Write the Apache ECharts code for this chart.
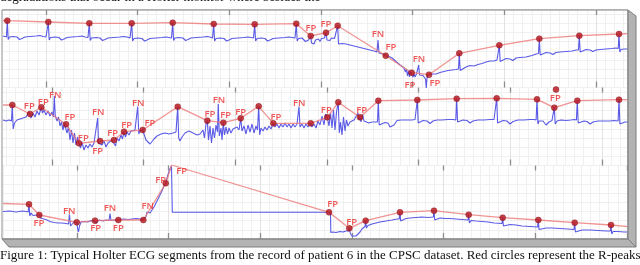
<!DOCTYPE html>
<html><head><meta charset="utf-8">
<script src="https://cdn.jsdelivr.net/npm/echarts@6/dist/echarts.min.js"></script>
<style>html,body{margin:0;padding:0;background:#fff;overflow:hidden;width:640px;height:265px;position:relative}#c{position:absolute;left:-60px;top:0;width:700px;height:265px}</style>
</head><body><div id="c"></div>
<script>
// ---------- data (time in samples, amplitude in display units) ----------
const ecg1 = [[3,36],[5,36.5],[6.5,37],[7.3,20.7],[8.2,39.5],[9.5,37],[13,36.5],[17,37],[19.5,39.5],[22,38.5],[25,37],[30,36.5],[36,36],[40,35.5],[43,36.5],[46,37],
[47.5,37.5],[48.3,22],[49.2,40],[50.5,37.5],[55,37],[59,37.5],[61.5,40],[64,39],[67,37.5],[72,37],[78,36.5],[82,36],[85,37],[88,37.5],
[89.3,23.3],[90.2,40.5],[91.5,38],[96,37.5],[100,38],[102.5,40.5],[105,39.5],[108,38],[114,37.5],[120,37],[124,36.5],[127,37],[130,38],
[131.7,23.3],[132.6,41],[134,38.5],[138,38],[142,38.5],[144.5,41],[147,40],[150,38.5],[156,38],[162,37.5],[166,37],[169,37.5],[171.5,38],
[172.7,22.7],[173.6,40.5],[175,38],[179,37.5],[183,38],[185.5,40.5],[188,39.5],[191,38],[197,37.5],[203,37],[207,36.5],[210,37],[212.5,38],
[213.7,24],[214.6,41],[216,38.5],[220,38],[224,38.5],[226.5,41],[229,40],[232,38.5],[238,38],[244,37.5],[248,37],[251,37.5],[253.5,38],
[254.7,24.3],[255.6,41],[257,38.5],[261,38],[265,38.5],[267.5,41],[270,40],[273,38.5],[279,38],[285,37.5],[289,37],[292,37.5],[295,38],
[296.3,23.7],[297.2,41],[298.5,38.5],[302,38],[304,39],[305.5,41.5],[307,43],[308.5,40],[309.5,42],[310.7,36],[311.5,43],[313,41],[314,44],[315.5,40],[317,42],[318.5,39],[320,41.5],[321.5,38.5],[323,40],[324.5,38],[326,32.7],[327,40],[328.5,38],[330,40.5],[331.5,38],[333,40],[334.5,38.5],[336,40],
[337.7,25.7],[338.5,44],[340,42],[342,43.5],[344,42],[346,44],[348,43],[350,45],[352,44],[354,46],[356,45],[358,47],[360,46.5],[362,48],[364,47],[366,49],[368,48.5],[370,50],[372,49],[374,51],[376,51.5],[377,52],[378,40],[379,53],[381,52],[383,54],[385.7,55.7],[388,56],[390,57.5],[392,58],[394,60],[396,61.5],[398,63],[400,65],[402,66],[404,68],[405.5,72],[406.5,69],[407.5,76],[408.5,71],[409.5,77],[410.5,72],[411.7,72.7],[413,77],[414,74],[415,77],[416.5,74],[417.8,75],[418.7,65],[419.5,75],[421,74],[423,75.5],[424.5,74],[425.5,79],[426.3,88],[427,78],[428,75],[429,74.7],[431,74],[433,73.5],[436,74],[440,72.5],[444,71.5],[448,70.5],[452,70],[456,69.5],[458.5,69],
[459.3,53.3],[460.2,70.5],[462,69],[466,67],[470,65.5],[474,66],[478,64.5],[482,63.5],[486,62],[490,61],[494,61],[497,60],[498.5,60],
[499.3,45.3],[500.2,61.5],[502,59.5],[506,58.5],[510,59],[513,60.5],[516,58],[520,57.5],[526,57],[532,55.5],[536,54],[538.5,53.5],
[539.3,38.7],[540.2,55],[542,53],[546,52.5],[550,53],[553,54.5],[556,52.5],[560,52],[566,51.5],[572,51],[576,50],[578.5,50],
[579.3,35.7],[580.2,52],[582,50],[586,49.5],[590,50],[593,51.5],[596,50],[600,49.5],[606,49],[612,48.5],[616,48],[618.2,48.5],
[619,34],[619.8,52],[621,49.5],[624,49],[628,49]];
const peaks1 = [[7.3,20.7],[48.3,22],[89.3,23.3],[131.7,23.3],[172.7,22.7],[213.7,24],[254.7,24.3],[296.3,23.7],[310.7,36],[326,32.7],[337.7,25.7],[385.7,55.7],[411.7,72.7],[429,74.7],[459.3,53.3],[499.3,45.3],[539.3,38.7],[579.3,35.7],[619,34]];
const edges1 = [[3,20.5],[628,33.7]];
const labels1 = [['FP',311,28],['FP',326,24.5],['FN',378,34],['FP',391,47.5],['FN',419,59],['FP',410,85],['FP',435,83.5]];

const ecg2 = [[3,120],[6,121],[9,120],[11.5,121],[12.3,105],[13.2,129],[14.5,123],[17,120],[20,119],[23,118],[26,117],[28,119],[29,112],[30,114],[31,118],[33,113],[35,117],[37,111],[39,115],[41.3,107.3],[42.5,113],[44,110],[46,115],[48,111],[50,116],[52,112],[53.5,117],[54.3,96],[55.3,116],[57,121],[58.5,117],[60,126],[61.5,122],[63,130],[64.5,124],[66,124.3],[67,133],[68.5,127],[70,140],[71.5,130],[73,143],[74.5,133],[76,145],[77.5,137],[79,143.3],[80.5,148],[82,142],[84,150],[86,145],[88,148],[90,144],[92,147],[94,143],[96,145],[97.7,118],[98.5,143],[100,141],[102,145],[104,141],[106,147],[108,143],[110,144],[112,140],[114,140],[115.5,146],[117,138],[119,141],[121,135],[122.5,139],[124,131.7],[125.5,137],[127,132],[129,135],[131,131],[133,133],[135,130],[136.5,132],[137.7,106.5],[138.8,134],[140,131],[142.7,130],[144,134],[146,140],[148,142],[150,144],[152,142],[154,139],[157,136],[161,134],[165,133],[169,134],[173,133],[176,132],
[177.7,106.7],[178.7,138],[180,141],[182,137],[185,133],[189,131],[193,133],[197,135],[200,134],[203,130],[204.5,138],[206,124],[207.3,120.7],[208.5,140],[210,126],[211.5,143],[213,128],[214.5,138],[216,125],[217.5,132],[218.3,104],[219.3,136],[221,128],[222,140],[223.3,122.7],[224.5,135],[226,127],[227.5,134],[229,128],[231,133],[233,129],[235,131],[237,127],[239,130],[240.7,118.3],[242,131],[244,126],[246,134],[248,125],[250,132],[252,124],[254,133],[256,126],[257.5,130],[258.7,106.3],[259.7,135],[261,128],[263,131],[265,127],[267,130],[269,126],[271,129],[273.3,123.3],[275,127],[277,124],[279,128],[281,124],[283,127],[285,123],[287,127],[289,124],[291,128],[293,124],[295,127],[297,124],[298.2,126],[299,106.5],[300,127],[302,124],[304,128],[306,124],[308,127],[310.7,123.3],[312,127],[314,124],[316,128],[318,121],[320,125],[322,116],[324,125],[325.5,114],[327.3,117.3],[329,126],[330.5,113],[332,128],[333.5,110],[335,130],[336.5,112],[338.3,102.3],[339.3,133],[340.5,122],[342,135],[343.5,117],[345,131],[346.5,120],[348,126],[350,122],[352,124],[354,120],[356,119],[358,113],[359,120],[360,117.3],[361,122],[362.5,114],[364,121],[366,122],[369,123],[372,122],[375,122],[377.5,122],
[378.3,100.7],[379.2,125],[381,123],[385,122.5],[388,123],[390,127],[392,129],[394,125],[397,120.5],[401,120],[406,120],[412,120],[415,119.5],[416.5,120],
[417.3,100],[418.2,123],[419.5,121],[423,120.5],[427,121],[430,123.5],[433,121],[437,120],[442,120],[448,119.5],[453,119.5],[455.8,120],
[456.7,98.7],[457.6,122],[459,120],[463,120],[467,120.5],[470,123],[473,121],[478,120],[484,120],[490,119.5],[494,119.5],[495.8,120],
[496.7,98.3],[497.6,123],[499,121],[503,120.5],[507,121],[510,124],[513,121.5],[518,120],[524,120],[530,119.5],[534,119.5],[536.1,120],
[537,99.3],[537.9,124],[539,121],[543,121],[546,125],[549,122],[552,120.5],[553.5,121],[554.3,107.7],[555.2,124],[557,121],[561,120],[566,120.5],[571,120],[574,119.5],[576.4,120],
[577.3,100.7],[578.2,123],[580,121],[584,121],[587,121.5],[590,124],[593,122],[598,121],[604,121],[610,121],[614,120.5],[618.1,121],
[619,99.7],[619.9,124],[621,122],[625,122],[628,122]];
const peaks2 = [[12.3,105],[30,114],[41.3,107.3],[66,124.3],[79,143.3],[100,141],[114,140],[124,131.7],[142.7,130],[177.7,106.7],[207.3,120.7],[223.3,122.7],[240.7,118.3],[258.7,106.3],[273.3,123.3],[310.7,123.3],[327.3,117.3],[338.3,102.3],[360,117.3],[378.3,100.7],[417.3,100],[456.7,98.7],[496.7,98.3],[537,99.3],[554.3,107.7],[577.3,100.7],[619,99.7]];
const edges2 = [[3,105],[628,99.7]];
const extraDots2 = [[556,89.5]];
const labels2 = [['FP',29.3,106],['FP',43.3,102.3],['FN',55.3,95],['FP',70,117.7],['FN',98.3,112.7],['FP',83.3,138.3],['FP',97.7,151.7],['FP',112.7,133.3],['FP',126.7,125.7],['FN',138.3,103],['FP',150,123.3],['FP',210,114],['FN',219,100.7],['FP',225.7,115.7],['FP',240.7,112.3],['FP',276,117.7],['FN',299.2,103],['FP',326.3,110],['FP',361.7,110],['FP',555.3,98.3]];

const ecg3 = [[3,211.5],[10,211],[16,212],[22,211],[26,211.5],[28.2,212],[29,204.3],[29.8,216],[31,213],[33,215.5],[35,214],[37,215],[38.5,214.5],[39.3,215],[40.5,218],[42,216],[44,219],[47,220],[50,221.5],[54,222.5],[58,223],[62,223],[66,223.5],[68.5,224],[69.5,214.5],[70.5,226],[72,225],[74,222],[75.5,224],[76.7,222.3],[77.5,228],[78.5,232],[79.5,226],[81,222],[84,221.5],[88,222],[91,220.5],[94,221],[95,220.7],[96.5,223],[99,220],[103,221],[106,220],[109,220.5],[110,213.5],[111,220.5],[114,220],[117,220],[118.3,220],[120,219.5],[124,219],[128,219.5],[132,219],[136,218.5],[140,219],[142,220],[143.3,220],[144.5,219],[146,216.5],[147,212],[148,214],[150,213],[152,210],[154,207],[156,203],[158,199],[160,195],[162,191],[164,186],[165.7,183.3],[167,178],[168.5,173],[170,169],[171.5,166],[172,165],[172.3,212.3],[200,212.3],[250,212.3],[300,212.3],[330.5,212.3],[330.8,232.5],[333,232],[336,232.5],[340,231.5],[343,232],[346,231],[348.5,231],[349.3,228.3],[350.2,233],[352,236],[354,237.5],[356,236],[358,234.5],[360,232],[362,229],[364,227],[365,226.5],[365.7,220.7],[366.4,228],[368,225.5],[372,224],[376,223],[380,222],[386,221],[392,220],[397,219],[399.3,219],[400,212.3],[400.7,221],[402,219],[406,218.5],[410,218],[416,217.5],[422,217],[428,217.5],[433.3,217],[434,210.7],[434.7,220],[436,218],[440,218],[445,218.5],[450,218.5],[456,219],[462,219.5],[468,220],[468.7,214.7],[469.4,223],[471,220.5],[476,221],[482,221.5],[488,222],[494,223],[502,223.5],[502.7,217.7],[503.4,226],[505,224],[510,224.5],[516,225],[522,226],[530,226.5],[537.6,227],[538.3,220],[539,229.5],[541,227.5],[546,228],[552,228],[560,228.5],[568,229],[574,229.5],[574.7,222.7],[575.4,232],[577,230],[582,230],[590,230],[598,230.5],[606,231],[610.3,231],[611,225],[611.7,234],[613,231.5],[618,231.5],[624,232],[628,232]];
const peaks3 = [[29,204.3],[39.3,215],[76.7,222.3],[95,220.7],[118.3,220],[143.3,220],[165.7,183.3],[329,212.3],[349.3,228.3],[365.7,220.7],[400,212.3],[434,210.7],[468.7,214.7],[502.7,217.7],[538.3,220],[574.7,222.7],[611,225]];
const redPath3 = [[3,203.5],[29,204.3],[39.3,215],[76.7,222.3],[95,220.7],[118.3,220],[143.3,220],[165.7,183.3],[171.7,165],[329,212.3],[349.3,228.3],[365.7,220.7],[400,212.3],[434,210.7],[468.7,214.7],[502.7,217.7],[538.3,220],[574.7,222.7],[611,225],[628,226.7]];
const labels3 = [['FP',39,223.3],['FN',69.3,211.2],['FP',95.7,228.7],['FN',110,208.7],['FP',118.3,228.7],['FN',147.7,206.7],['FP',160.7,180.7],['FP',181.7,171],['FP',332.7,204.3],['FP',351.7,222.3]];

const topText = 'degradations that occur in a Holter monitor where besides the';
const caption = 'Figure 1: Typical Holter ECG segments from the record of patient 6 in the CPSC dataset. Red circles represent the R-peaks';

// ---------- layout ----------
const OFF = 60; // canvas is shifted left by OFF px
const panels = [
  {top:10, bottom:87.5, major:46, ecg:ecg1, red:[edges1[0], ...peaks1, edges1[1]], dots:peaks1, labels:labels1},
  {top:87.5, bottom:165.5, major:52, ecg:ecg2, red:[edges2[0], ...peaks2, edges2[1]], dots:peaks2.concat(extraDots2), labels:labels2},
  {top:165.5, bottom:239, major:77, ecg:ecg3, red:redPath3, dots:peaks3, labels:labels3}
];
const RIGHT = 628, MAJ = 91.67, MIN = MAJ/10;
const grids=[], xAxes=[], yAxes=[], series=[];
panels.forEach((p,i)=>{
  const L = p.major - MAJ;
  const w = RIGHT - L, h = p.bottom - p.top;
  grids.push({left:L+OFF, top:p.top, width:w, height:h, show:true, borderColor:'#a8a8a8', borderWidth:1, containLabel:false, outerBoundsMode:'none'});
  const xi = xAxes.length, yi = yAxes.length;
  xAxes.push({gridIndex:i, type:'value', min:L, max:RIGHT, show:false});
  xAxes.push({gridIndex:i, type:'value', min:0, max:w/MIN, interval:1, axisLine:{show:false}, axisTick:{show:false}, axisLabel:{show:false}, splitLine:{show:true, lineStyle:{color:'#f0f0f0', width:1}}});
  xAxes.push({gridIndex:i, type:'value', position:'bottom', min:0, max:w/MAJ, interval:1, axisLine:{show:false}, axisTick:{show:true, inside:true, length:6, lineStyle:{color:'#8c8c8c', width:1.3}}, axisLabel:{show:false}, splitLine:{show:true, lineStyle:{color:'#e2e2e2'}}});
  xAxes.push({gridIndex:i, type:'value', position:'top', min:0, max:w/MAJ, interval:1, axisLine:{show:false}, axisTick:{show:true, inside:true, length:5, lineStyle:{color:'#8c8c8c', width:1.3}}, axisLabel:{show:false}, splitLine:{show:false}});
  yAxes.push({gridIndex:i, type:'value', inverse:true, min:p.top, max:p.bottom, show:false});
  yAxes.push({gridIndex:i, type:'value', min:0, max:h/MIN, interval:1, axisLine:{show:false}, axisTick:{show:false}, axisLabel:{show:false}, splitLine:{show:true, lineStyle:{color:'#f0f0f0'}}});
  series.push({type:'line', xAxisIndex:xi, yAxisIndex:yi, data:p.ecg, showSymbol:false, symbol:'none', silent:true, animation:false, clip:true, z:3,
    lineStyle:{color:'#5a5ae6', width:1.1}});
  series.push({type:'line', xAxisIndex:xi, yAxisIndex:yi, data:p.red, showSymbol:false, symbol:'none', silent:true, animation:false, clip:true, z:4,
    lineStyle:{color:'rgba(238,120,120,0.8)', width:1.3}});
  series.push({type:'scatter', xAxisIndex:xi, yAxisIndex:yi, data:p.dots, symbolSize:6, animation:false, silent:true, z:5,
    itemStyle:{color:'#b3121c', borderColor:'#8a0c12', borderWidth:0.5}});
  series.push({type:'scatter', xAxisIndex:xi, yAxisIndex:yi, symbolSize:0, animation:false, silent:true, z:6, clip:false,
    data:p.labels.map(l=>({name:l[0], value:[l[1], l[2]]})),
    label:{show:true, position:'inside', formatter:'{b}', color:'#ee2c2c', fontSize:9.5, fontWeight:600, fontFamily:'"Open Sans", sans-serif'}});
});

const chart = echarts.init(document.getElementById('c'), null, {renderer:'canvas'});
chart.setOption({
  backgroundColor:'#ffffff',
  animation:false,
  grid:grids, xAxis:xAxes, yAxis:yAxes, series:series,
  graphic:[
    {type:'rect', shape:{x:0, y:0, width:OFF+2, height:250}, style:{fill:'#fff'}, z:50},
    {type:'polygon', shape:{points:[[OFF+628,10],[OFF+636,16],[OFF+636,247],[OFF+628,239]]}, style:{fill:'#b3b3b3', stroke:'#7d7d7d', lineWidth:1}, z:51},
    {type:'polygon', shape:{points:[[OFF+2,239],[OFF+628,239],[OFF+636,247],[OFF+9,247]]}, style:{fill:'#b3b3b3', stroke:'#7d7d7d', lineWidth:1}, z:51},
    {type:'rect', shape:{x:OFF+2, y:10, width:626, height:229}, style:{fill:'none', stroke:'#8e8e8e', lineWidth:1}, z:52},
    {type:'text', left:OFF, top:-8.5, style:{text:topText, font:'13px "Liberation Serif", "Times New Roman", serif', fill:'#111'}, z:60},
    {type:'text', left:OFF, top:249.5, style:{text:caption, font:'13px "Liberation Serif", "Times New Roman", serif', fill:'#111'}, z:60}
  ]
});
</script>
</body></html>
